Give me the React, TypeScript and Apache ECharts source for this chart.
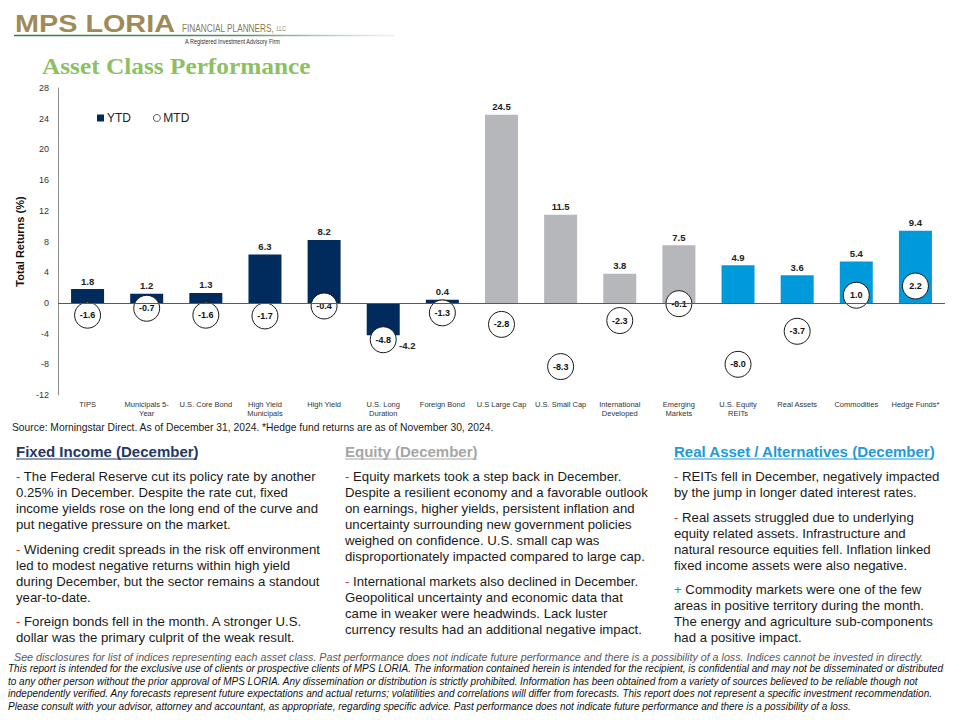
import React, { useEffect, useRef } from "react";
import * as echarts from "echarts";

const categories = [
  "TIPS",
  "Municipals 5-\nYear",
  "U.S. Core Bond",
  "High Yield\nMunicipals",
  "High Yield",
  "U.S. Long\nDuration",
  "Foreign Bond",
  "U.S Large Cap",
  "U.S. Small Cap",
  "International\nDeveloped",
  "Emerging\nMarkets",
  "U.S. Equity\nREITs",
  "Real Assets",
  "Commodities",
  "Hedge Funds*",
];
const assetGroup = [
  "fixed", "fixed", "fixed", "fixed", "fixed", "fixed", "fixed",
  "equity", "equity", "equity", "equity",
  "real", "real", "real", "real",
];
const ytdReturns = [1.8, 1.2, 1.3, 6.3, 8.2, -4.2, 0.4, 24.5, 11.5, 3.8, 7.5, 4.9, 3.6, 5.4, 9.4];
const mtdReturns = [-1.6, -0.7, -1.6, -1.7, -0.4, -4.8, -1.3, -2.8, -8.3, -2.3, -0.1, -8.0, -3.7, 1.0, 2.2];
const yMin = -12;
const yMax = 28;
const yStep = 4;

const titleText = "Asset Class Performance";
const sourceText =
  "Source: Morningstar Direct. As of December 31, 2024. *Hedge fund returns are as of November 30, 2024.";

const fixedIncomeHeading = "Fixed Income (December)";
const fixedIncomeParas = [
  { marker: "-", lines: ["The Federal Reserve cut its policy rate by another", "0.25% in December. Despite the rate cut, fixed", "income yields rose on the long end of the curve and", "put negative pressure on the market."] },
  { marker: "-", lines: ["Widening credit spreads in the risk off environment", "led to modest negative returns within high yield", "during December, but the sector remains a standout", "year-to-date."] },
  { marker: "-", lines: ["Foreign bonds fell in the month. A stronger U.S.", "dollar was the primary culprit of the weak result."] },
];
const equityHeading = "Equity (December)";
const equityParas = [
  { marker: "-", lines: ["Equity markets took a step back in December.", "Despite a resilient economy and a favorable outlook", "on earnings, higher yields, persistent inflation and", "uncertainty surrounding new government policies", "weighed on confidence. U.S. small cap was", "disproportionately impacted compared to large cap."] },
  { marker: "-", lines: ["International markets also declined in December.", "Geopolitical uncertainty and economic data that", "came in weaker were headwinds. Lack luster", "currency results had an additional negative impact."] },
];
const realHeading = "Real Asset / Alternatives (December)";
const realParas = [
  { marker: "-", lines: ["REITs fell in December, negatively impacted", "by the jump in longer dated interest rates."] },
  { marker: "-", lines: ["Real assets struggled due to underlying", "equity related assets. Infrastructure and", "natural resource equities fell. Inflation linked", "fixed income assets were also negative."] },
  { marker: "+", lines: ["Commodity markets were one of the few", "areas in positive territory during the month.", "The energy and agriculture sub-components", "had a positive impact."] },
];
const footerFirst =
  "See disclosures for list of indices representing each asset class. Past performance does not indicate future performance and there is a possibility of a loss. Indices cannot be invested in directly.";
const footerLines = [
  "This report is intended for the exclusive use of clients or prospective clients of MPS LORIA. The information contained herein is intended for the recipient, is confidential and may not be disseminated or distributed",
  "to any other person without the prior approval of MPS LORIA. Any dissemination or distribution is strictly prohibited. Information has been obtained from a variety of sources believed to be reliable though not",
  "independently verified. Any forecasts represent future expectations and actual returns; volatilities and correlations will differ from forecasts. This report does not represent a specific investment recommendation.",
  "Please consult with your advisor, attorney and accountant, as appropriate, regarding specific advice. Past performance does not indicate future performance and there is a possibility of a loss.",
];

const FONT = "'Liberation Sans', Arial, sans-serif";
const groupColor: Record<string, string> = {
  fixed: "#002B5C",
  equity: "#B5B7BB",
  real: "#0099DA",
};

function paragraphEls(
  paras: { marker: string; lines: string[] }[],
  x: number,
  tops: number[]
) {
  return paras.map((p, i) => ({
    type: "text",
    x,
    y: tops[i],
    style: {
      text: `{m|${p.marker}} ` + p.lines.join("\n"),
      fill: "#1a1a1a",
      fontSize: 13.2,
      fontFamily: FONT,
      lineHeight: 16,
      align: "left",
      verticalAlign: "top",
      rich: {
        m: {
          fill: p.marker === "+" ? "#2E9E48" : "#C0392B",
          fontSize: 13.2,
          fontFamily: FONT,
          lineHeight: 16,
        },
      },
    },
  }));
}

function heading(text: string, x: number, color: string, width: number) {
  return [
    {
      type: "text",
      x,
      y: 451,
      style: {
        text,
        fill: color,
        fontSize: 15,
        fontWeight: "bold",
        fontFamily: FONT,
        align: "left",
        verticalAlign: "middle",
      },
    },
    {
      type: "line",
      shape: { x1: x, y1: 459, x2: x + width, y2: 459 },
      style: { stroke: color, lineWidth: 1.2 },
    },
  ];
}

export default function App() {
  const ref = useRef<HTMLDivElement>(null);
  useEffect(() => {
    if (!ref.current) return;
    const chart = echarts.init(ref.current, null, { renderer: "svg" });

    const graphic: any[] = [
      {
        type: "line",
        shape: { x1: 14, y1: 35.5, x2: 395, y2: 35.5 },
        style: {
          stroke: new echarts.graphic.LinearGradient(
            14, 0, 395, 0,
            [
              { offset: 0, color: "#2F7A4A" },
              { offset: 0.6, color: "#4E9468" },
              { offset: 1, color: "rgba(140,180,155,0.15)" },
            ],
            true
          ),
          lineWidth: 1.3,
        },
      },
      {
        type: "text",
        x: 15,
        y: 24,
        scaleX: 1.2,
        style: {
          text: "MPS LORIA",
          fill: "#A08B57",
          fontSize: 24,
          fontWeight: "bold",
          fontFamily: FONT,
          align: "left",
          verticalAlign: "middle",
        },
      },
      {
        type: "text",
        x: 182,
        y: 28,
        scaleX: 0.75,
        style: {
          text: "FINANCIAL PLANNERS, {s|LLC}",
          fill: "#8B7A4F",
          fontSize: 11,
          fontFamily: FONT,
          align: "left",
          verticalAlign: "middle",
          rich: { s: { fontSize: 7, fill: "#8B7A4F", fontFamily: FONT } },
        },
      },
      {
        type: "text",
        x: 185,
        y: 42,
        scaleX: 0.85,
        style: {
          text: "A Registered Investment Advisory Firm",
          fill: "#333333",
          fontSize: 6.5,
          fontFamily: FONT,
          align: "left",
          verticalAlign: "middle",
        },
      },
      {
        type: "text",
        x: 42,
        y: 66,
        scaleX: 1.055,
        style: {
          text: titleText,
          fill: "#8CC063",
          fontSize: 24,
          fontWeight: "bold",
          fontFamily: "'Liberation Serif', 'Times New Roman', serif",
          align: "left",
          verticalAlign: "middle",
        },
      },
      {
        type: "text",
        x: 12,
        y: 427,
        style: {
          text: sourceText,
          fill: "#1a1a1a",
          fontSize: 10.3,
          fontFamily: FONT,
          align: "left",
          verticalAlign: "middle",
        },
      },
      ...heading(fixedIncomeHeading, 16, "#1F3864", 181),
      ...heading(equityHeading, 345, "#A6A6A6", 132),
      ...heading(realHeading, 674, "#1E9BD7", 258),
      ...paragraphEls(fixedIncomeParas, 16, [468, 541, 613]),
      ...paragraphEls(equityParas, 345, [468, 573]),
      ...paragraphEls(realParas, 674, [468, 509, 581]),
      {
        type: "text",
        x: 14,
        y: 657,
        style: {
          text: footerFirst,
          fill: "#595959",
          fontSize: 10.7,
          fontStyle: "italic",
          fontFamily: FONT,
          align: "left",
          verticalAlign: "middle",
        },
      },
      {
        type: "text",
        x: 8,
        y: 662,
        style: {
          text: footerLines.join("\n"),
          fill: "#111111",
          fontSize: 10,
          lineHeight: 12.7,
          fontStyle: "italic",
          fontFamily: FONT,
          align: "left",
          verticalAlign: "top",
        },
      },
    ];

    const option: any = {
      animation: false,
      backgroundColor: "#ffffff",
      textStyle: { fontFamily: FONT },
      grid: { left: 58, right: 15, top: 88, bottom: 325, outerBoundsMode: "none" },
      legend: {
        left: 92,
        top: 107,
        itemWidth: 7,
        itemHeight: 7,
        itemGap: 22,
        itemStyle: { borderWidth: 0.7 },
        textStyle: { fontSize: 12, color: "#222", fontFamily: FONT, padding: [0, 0, 0, -2] },
        data: [
          { name: "YTD", icon: "rect" },
          { name: "MTD", icon: "circle" },
        ],
      },
      xAxis: {
        type: "category",
        data: categories,
        position: "bottom",
        axisLine: { show: false, onZero: false },
        axisTick: { show: false },
        axisLabel: {
          interval: 0,
          fontSize: 7.5,
          lineHeight: 9,
          color: "#333",
          margin: 5,
          fontFamily: FONT,
        },
      },
      yAxis: {
        type: "value",
        min: yMin,
        max: yMax,
        interval: yStep,
        splitLine: { show: false },
        axisTick: { show: false },
        axisLine: { show: true, lineStyle: { color: "#8c8c8c", width: 1 } },
        axisLabel: { fontSize: 9, color: "#333", margin: 9, fontFamily: FONT },
        name: "Total Returns (%)",
        nameLocation: "middle",
        nameGap: 28,
        nameTextStyle: { fontSize: 11, fontWeight: "bold", color: "#111", fontFamily: FONT },
      },
      series: [
        {
          name: "YTD",
          type: "bar",
          barWidth: 33,
          itemStyle: { color: groupColor.fixed },
          data: ytdReturns.map((v, i) => ({
            value: v,
            itemStyle: { color: groupColor[assetGroup[i]] },
            label: v < 0 ? { position: "bottom", offset: [24, 0], distance: 5 } : undefined,
          })),
          label: {
            show: true,
            position: "top",
            distance: 3,
            fontSize: 9.5,
            fontWeight: "bold",
            color: "#222",
            fontFamily: FONT,
            formatter: (p: any) => Number(p.value).toFixed(1),
          },
          markLine: {
            silent: true,
            symbol: ["none", "none"],
            label: { show: false },
            lineStyle: { color: "#595959", width: 1, type: "solid" },
            data: [{ yAxis: 0 }],
          },
          z: 2,
        },
        {
          name: "MTD",
          type: "scatter",
          symbol: "circle",
          symbolSize: 26,
          itemStyle: { color: "#ffffff", borderColor: "#1a1a1a", borderWidth: 1, opacity: 1 },
          data: mtdReturns,
          label: {
            show: true,
            position: "inside",
            fontSize: 9,
            fontWeight: "bold",
            color: "#111",
            fontFamily: FONT,
            formatter: (p: any) => Number(p.value).toFixed(1),
          },
          z: 4,
        },
      ],
      graphic,
    };
    chart.setOption(option);
    return () => chart.dispose();
  }, []);
  return (
    <div
      ref={ref}
      style={{ position: "fixed", left: 0, top: 0, width: 960, height: 720, background: "#fff" }}
    />
  );
}
